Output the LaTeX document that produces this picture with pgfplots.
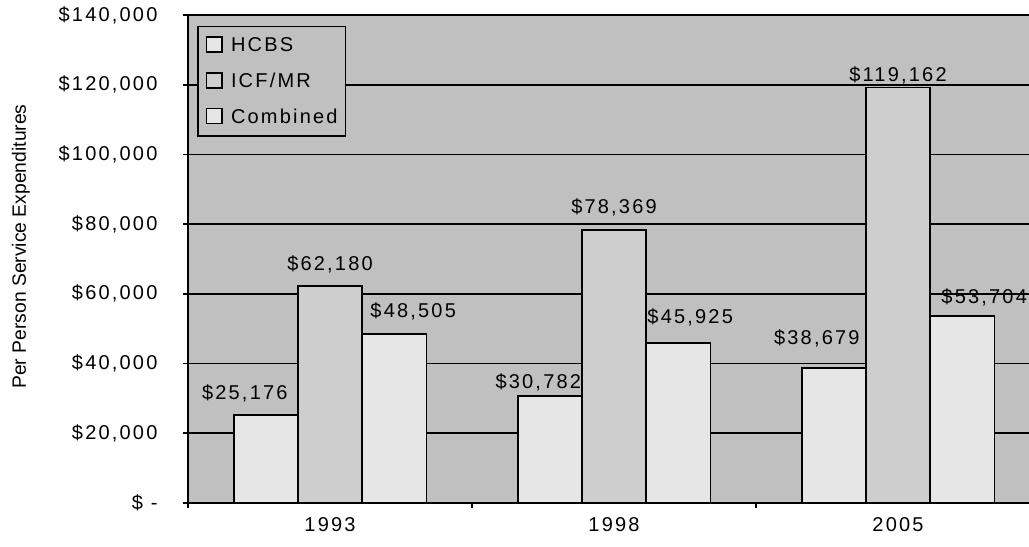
\documentclass[border=0pt]{standalone}
\usepackage{fontspec}
\setmainfont{Liberation Sans}
\newfontfamily\lsfont{Liberation Sans}[LetterSpace=11]
\usepackage{pgfplots}
\pgfplotsset{compat=1.18}
\usepackage{pgfplotstable}
\usetikzlibrary{calc}
\definecolor{bgc}{HTML}{C0C0C0}
\definecolor{hcbs}{HTML}{E6E6E6}
\definecolor{icf}{HTML}{CECECE}
\definecolor{comb}{HTML}{E6E6E6}

\pgfplotstableread{
x y dx dy
0 25176 -21 16
1 30782 -11.5 7.5
2 38679 -17 24
}\hcbsdata
\pgfplotstableread{
x y dx dy
0 62180 0 16
1 78369 0 16
2 119162 0 6
}\icfdata
\pgfplotstableread{
x y dx dy
0 48505 19 16
1 45925 12 19
2 53704 22 12
}\combdata

\newcommand{\lbl}{\$\pgfmathprintnumber[fixed,precision=0,1000 sep={,},assume math mode=true]{\pgfplotspointmeta}}

\begin{document}
\begin{tikzpicture}
\begin{axis}[
  scale only axis, width=852pt, height=488pt,
  xmin=-0.5, xmax=2.5, ymin=0, ymax=140000,
  ybar=0pt, bar width=64.2pt,
  axis background/.style={fill=bgc},
  axis x line=bottom, axis y line=left,
  axis line style={-, line width=1.6pt, black},
  ymajorgrids=true,
  grid style={black, line width=1.6pt},
  xtick={0,1,2}, xticklabels={1993,1998,2005},
  xtick style={draw=none},
  extra x ticks={-0.5,0.5,1.5,2.5}, extra x tick labels={},
  extra x tick style={xtick style={draw=black, line width=1.6pt}, major tick length=5pt, tick align=outside, grid=none},
  ytick={0,20000,40000,60000,80000,100000,120000,140000},
  yticklabels={\$ -,{\$20,000},{\$40,000},{\$60,000},{\$80,000},{\$100,000},{\$120,000},{\$140,000}},
  scaled y ticks=false,
  ytick align=center, major tick length=10pt,
  ytick style={black, line width=1.6pt},
  tick label style={font=\lsfont\fontsize{20}{24}\selectfont, text=black},
  yticklabel style={anchor=east, xshift=-22pt},
  xticklabel style={anchor=base, yshift=-23pt},
  ylabel={Per Person Service Expenditures},
  ylabel style={at={($(rel axis cs:0,0.5)+(-162pt,12.5pt)$)}, anchor=base, font=\fontsize{19.3}{23}\selectfont},
  legend style={at={(rel axis cs:0,1)}, anchor=north west, xshift=9.3pt, yshift=-10.7pt,
    fill=bgc, draw=black, line width=1.6pt, inner xsep=8pt, inner ysep=10pt, row sep=17.5pt,
    font=\lsfont\fontsize{20}{24}\selectfont,
    nodes={inner sep=0pt, text height=14pt, text depth=3pt},
    /tikz/every odd column/.append style={column sep=8.5pt}},
  legend cell align=left,
  legend image code/.code={\draw[#1, line width=1.4pt] (0pt,-6pt) rectangle (15pt,9pt);},
  nodes near coords={\lbl},
  every node near coord/.append style={font=\lsfont\fontsize{20}{24}\selectfont, text=black, anchor=base},
]
\addplot[fill=hcbs, draw=black, line width=1.6pt,
  visualization depends on={\thisrow{dx}\as\dx},
  visualization depends on={\thisrow{dy}\as\dy},
  every node near coord/.append style={xshift=\dx pt, yshift=\dy pt}]
  table[x=x,y=y]{\hcbsdata};
\addplot[fill=icf, draw=black, line width=1.6pt,
  visualization depends on={\thisrow{dx}\as\dx},
  visualization depends on={\thisrow{dy}\as\dy},
  every node near coord/.append style={xshift=\dx pt, yshift=\dy pt}]
  table[x=x,y=y]{\icfdata};
\addplot[fill=comb, draw=black, line width=1.6pt,
  visualization depends on={\thisrow{dx}\as\dx},
  visualization depends on={\thisrow{dy}\as\dy},
  every node near coord/.append style={xshift=\dx pt, yshift=\dy pt}]
  table[x=x,y=y]{\combdata};
\legend{HCBS,ICF/MR,Combined}
\coordinate (BL) at (rel axis cs:0,0);
\coordinate (TR) at (rel axis cs:1,1);
\end{axis}
\pgfresetboundingbox
\useasboundingbox ($(BL)+(-188pt,-43pt)$) rectangle ($(TR)+(-11pt,15pt)$);
\end{tikzpicture}
\end{document}
